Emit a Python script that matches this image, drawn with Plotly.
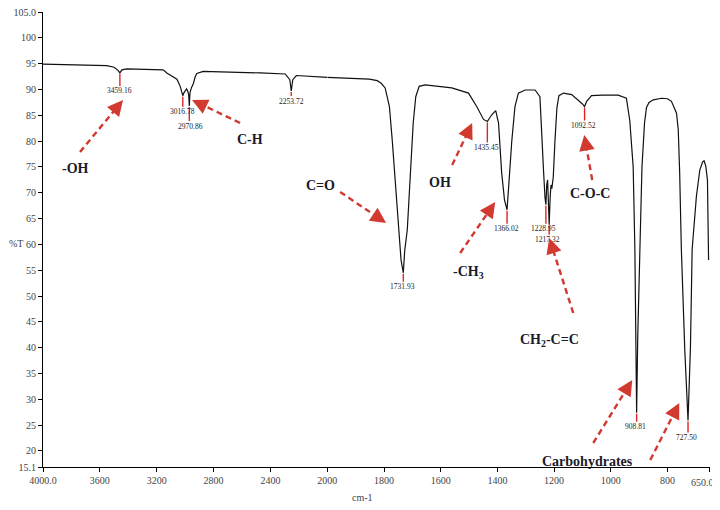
import math
import plotly.graph_objects as go

# ---------------- data ----------------
wavenumber = [4000, 3739, 3551, 3500, 3472, 3459.16, 3445, 3411, 3247, 3155,
              3129, 3092, 3058, 3035, 3022, 3016.78, 3008, 2990, 2982, 2975,
              2970.86, 2966, 2955, 2944, 2930, 2918, 2873, 2683, 2472, 2296,
              2264, 2253.72, 2243, 2218, 2120, 2049, 2000, 1966, 1913, 1852,
              1824, 1810, 1796, 1781, 1771, 1759, 1748, 1740, 1731.93, 1727,
              1718, 1706, 1697, 1688, 1676, 1655, 1600, 1561, 1502, 1473,
              1449, 1435.45, 1420, 1406, 1396, 1385, 1375, 1366.02, 1361, 1349,
              1338, 1326, 1302, 1267, 1250, 1243, 1237, 1232, 1228.95, 1226,
              1223, 1220, 1217.32, 1214, 1211, 1208, 1203, 1197, 1190, 1183,
              1167, 1138, 1109, 1100, 1092.52, 1085, 1068, 1030, 974, 945,
              933, 921, 915, 912, 908.81, 905, 898, 890, 881, 874,
              865, 850, 821, 800, 786, 768, 762, 757, 751, 739,
              727.5, 719, 713, 698, 686, 676, 671, 665, 659, 655]
transmittance = [94.9, 94.8, 94.6, 94.3, 93.7, 93.2, 93.8, 94.0, 93.9, 93.8,
                 93.2, 92.6, 92.0, 90.6, 89.3, 88.8, 89.4, 90.1, 89.7, 88.9,
                 86.8, 89.4, 90.4, 91.0, 92.4, 93.1, 93.5, 93.4, 93.2, 93.0,
                 91.9, 89.7, 91.9, 92.7, 92.5, 92.4, 92.35, 92.3, 92.2, 92.0,
                 91.7, 91.2, 90.3, 86.7, 80.2, 70.6, 62.3, 57.0, 54.5, 58.8,
                 62.8, 73.9, 83.5, 88.6, 90.6, 90.9, 90.6, 90.3, 89.3, 86.7,
                 84.2, 83.8, 85.1, 85.9, 83.5, 73.9, 68.6, 66.7, 70.6, 80.2,
                 86.7, 89.3, 89.9, 89.9, 88.6, 82.0, 74.0, 69.0, 67.7, 71.5,
                 72.5, 68.0, 63.8, 69.0, 71.5, 70.8, 73.0, 80.0, 86.5, 88.8,
                 89.3, 89.0, 87.7, 87.2, 86.7, 87.7, 88.8, 88.9, 88.9, 88.3,
                 84.0, 75.0, 59.0, 42.0, 27.4, 42.0, 60.0, 75.0, 83.5, 86.5,
                 87.5, 88.0, 88.3, 88.2, 87.7, 85.4, 82.2, 73.9, 59.0, 39.6,
                 25.9, 40.0, 59.0, 69.3, 74.4, 76.0, 76.2, 75.2, 72.5, 57.0]

peak_wn = [3459.16, 3016.78, 2970.86, 2253.72, 1731.93, 1435.45, 1366.02,
           1228.95, 1217.32, 1092.52, 908.81, 727.50]
peak_t = [93.2, 88.8, 86.8, 89.7, 54.5, 83.8, 66.7, 67.7, 63.8, 86.7, 27.4, 25.9]
peak_text = ["3459.16", "3016.78", "2970.86", "2253.72", "1731.93", "1435.45",
             "1366.02", "1228.95", "1217.32", "1092.52", "908.81", "727.50"]

x_left_ticks = [4000, 3600, 3200, 2800, 2400]
x_left_text = ["4000.0", "3600", "3200", "2800", "2400"]
x_right_ticks = [2000, 1800, 1600, 1400, 1200, 1000, 800, 650]
x_right_text = ["2000", "1800", "1600", "1400", "1200", "1000", "800", ""]
x_end_text = "650.0"   # drawn as its own label, nudged inside the window
y_ticks = [16.9, 20, 25, 30, 35, 40, 45, 50, 55, 60, 65, 70, 75, 80, 85, 90, 95, 100, 105]
y_text = ["15.1", "20", "25", "30", "35", "40", "45", "50", "55", "60", "65", "70",
          "75", "80", "85", "90", "95", "100", "105.0"]

group_text = ["-OH", "C-H", "C=O", "OH", "-CH<sub>3</sub>", "C-O-C",
              "CH<sub>2</sub>-C=C", "Carbohydrates"]

# ---------------- layout constants ----------------
# the page places the figure 8px in from the window corner
PAGE = 8
W, H = 720 - PAGE, 510 - PAGE
SX0, SX1, SY0, SY1 = 43, 709.7, 12, 467      # plot area in window pixels
L, T = SX0 - PAGE, SY0 - PAGE
R, B = W - (SX1 - PAGE), H - (SY1 - PAGE)
PW, PH = SX1 - SX0, SY1 - SY0
Y0, Y1 = 16.9, 105
PX_PER_UNIT = PH / (Y1 - Y0)
SPLIT = 2000
D = (327.2 - SX0) / PW

def px(xp):
    return (xp - SX0) / PW

def py(yp):
    return (SY1 - yp) / PH

RED = "#D23A30"
SERIF = "Liberation Serif"

# label offsets under each peak (pixels)
label_off = [18, 16, 20, 10, 14, 26, 19, 24, 15, 19, 14, 17]
label_dx = [0, 0, 1, 0, -1, -1, -1, -2, -2, -1, -1, -2]

# group label pixel centres
group_pos = [(75, 168), (250, 139), (320, 185), (440, 182), (468, 272),
             (590, 193), (549, 340), (587, 461)]
# arrows: tail -> tip (pixels)
arrows = [((80, 152), (123, 100)), ((240, 123), (192, 100)),
          ((340, 192), (386, 223)), ((452, 165), (472, 123)),
          ((460, 253), (495, 202)), ((592, 180), (584, 135)),
          ((573, 313), (549, 238)), ((593, 443), (632, 380)),
          ((650, 460), (679, 403))]

# ---------------- figure ----------------
left_x = [w for w in wavenumber if w >= SPLIT]
left_y = [t for w, t in zip(wavenumber, transmittance) if w >= SPLIT]
right_x = [w for w in wavenumber if w <= SPLIT]
right_y = [t for w, t in zip(wavenumber, transmittance) if w <= SPLIT]

fig = go.Figure()
line_style = dict(color="#111111", width=1.2)
fig.add_trace(go.Scatter(x=left_x, y=left_y, mode="lines", line=line_style,
                         xaxis="x", yaxis="y", hoverinfo="skip"))
fig.add_trace(go.Scatter(x=right_x, y=right_y, mode="lines", line=line_style,
                         xaxis="x2", yaxis="y", hoverinfo="skip"))

shapes = []
annotations = []
CENTER = dict(xanchor="center", yanchor="middle", showarrow=False)

# peak markers and labels
for w, t, txt, off, dx in zip(peak_wn, peak_t, peak_text, label_off, label_dx):
    xr = "x" if w >= SPLIT else "x2"
    shapes.append(dict(type="line", xref=xr, yref="y", x0=w, x1=w,
                       y0=t - 1.0 / PX_PER_UNIT, y1=t - (off - 5) / PX_PER_UNIT,
                       line=dict(color="#E02424", width=1.4)))
    annotations.append(dict(xref=xr, yref="y", x=w, y=t, yshift=-off, xshift=dx,
                            text=txt, font=dict(family=SERIF, size=7.5, color="#222222"),
                            **CENTER))

# group labels
for txt, (gx, gy) in zip(group_text, group_pos):
    annotations.append(dict(xref="paper", yref="paper", x=px(gx), y=py(gy),
                            text="<b>%s</b>" % txt,
                            font=dict(family=SERIF, size=14, color="#1a1a2a"), **CENTER))

# dashed arrows
for (tx, ty), (hx, hy) in arrows:
    dx, dy = tx - hx, ty - hy
    n = math.hypot(dx, dy)
    ux, uy = dx / n, dy / n
    bx, by = hx + ux * 9, hy + uy * 9
    shapes.append(dict(type="line", xref="paper", yref="paper",
                       x0=px(tx), y0=py(ty), x1=px(bx), y1=py(by),
                       line=dict(color=RED, width=2.4, dash="6px,4px")))
    annotations.append(dict(xref="paper", yref="paper", x=px(hx), y=py(hy),
                            ax=ux * 12, ay=uy * 12, text="", showarrow=True,
                            arrowhead=2, arrowsize=1.3, arrowwidth=2.4,
                            arrowcolor=RED, standoff=0))

tickfont = dict(family=SERIF, size=10, color="#444444")

# axis titles and end label
annotations.append(dict(xref="paper", yref="paper", x=px(16), y=py(244), text="%T",
                        font=tickfont, **CENTER))
annotations.append(dict(xref="paper", yref="paper", x=px(362), y=py(497), text="cm-1",
                        font=tickfont, **CENTER))
annotations.append(dict(xref="x2", yref="paper", x=650, y=py(482), xshift=-7,
                        text=x_end_text, font=tickfont, **CENTER))

axis_common = dict(showline=True, linecolor="black", linewidth=1, ticks="outside",
                   ticklen=4, tickcolor="black", showgrid=False, zeroline=False,
                   tickfont=tickfont, fixedrange=True, automargin=False,
                   ticklabeloverflow="allow")

fig.update_layout(
    width=W, height=H, margin=dict(l=L, r=R, t=T, b=B, autoexpand=False),
    plot_bgcolor="white", paper_bgcolor="white", showlegend=False,
    xaxis=dict(domain=[0, D], range=[4000, SPLIT], tickmode="array",
               tickvals=x_left_ticks, ticktext=x_left_text, anchor="y", **axis_common),
    xaxis2=dict(domain=[D, 1], range=[SPLIT, 650], tickmode="array",
                tickvals=x_right_ticks, ticktext=x_right_text, anchor="y", **axis_common),
    yaxis=dict(range=[Y0, Y1], tickmode="array", tickvals=y_ticks, ticktext=y_text,
               anchor="x", **axis_common),
    shapes=shapes, annotations=annotations,
)

fig.write_html("out.html")
